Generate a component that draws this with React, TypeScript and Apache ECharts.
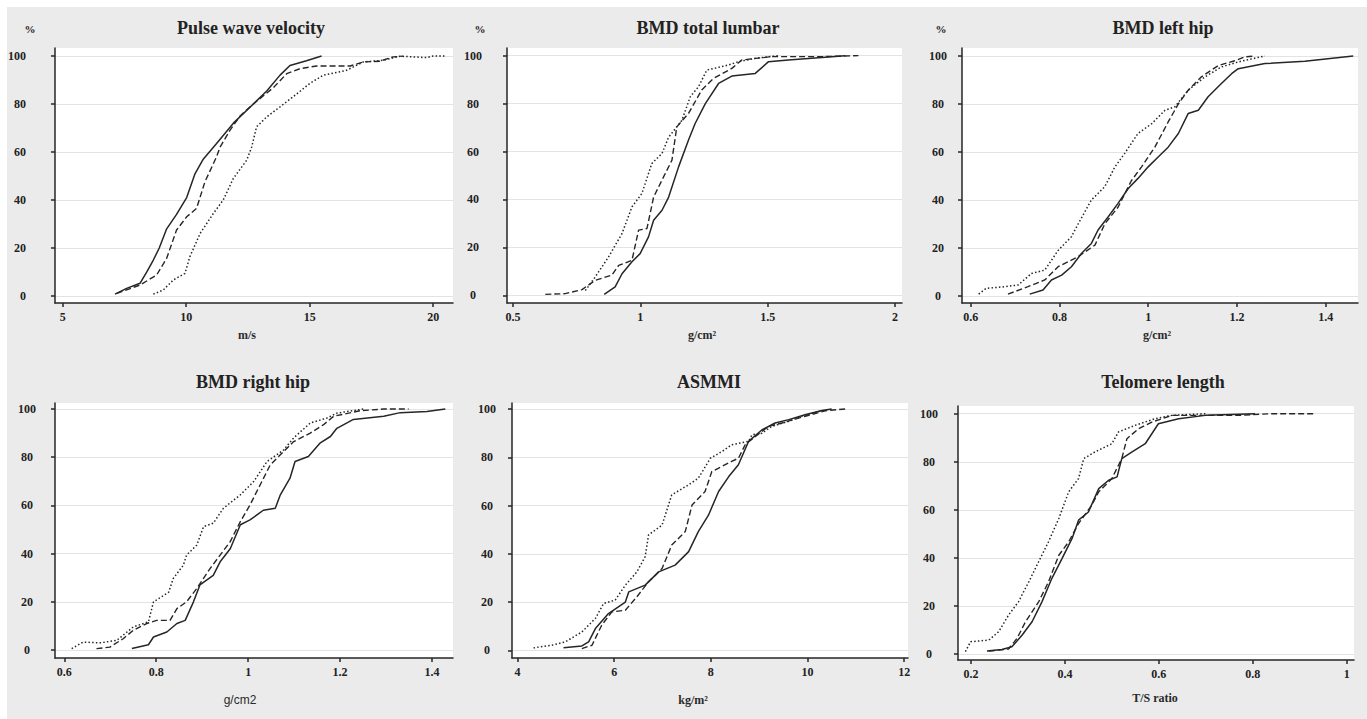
import React, { useEffect, useRef } from "react";
import * as echarts from "echarts";

const pctTicks = [0, 20, 40, 60, 80, 100];

// Pulse wave velocity (m/s)
const pwvTicks = [5, 10, 15, 20];
const pwvSolid = [[7.12,0.8],[7.59,3.2],[8.13,5.3],[8.4,10],[8.67,15],[8.91,20],[9.21,28],[9.61,34],[10.02,41],[10.36,51],[10.69,57],[11.23,63.5],[11.91,72],[12.72,80],[13.26,85.4],[13.8,92],[14.2,96],[14.87,98],[15.48,100]];
const pwvDashed = [[7.19,1.1],[8.13,4.6],[8.8,8.7],[9.21,15.7],[9.61,27.5],[10.02,33],[10.42,36.5],[10.76,47.6],[11.23,58],[11.37,62],[11.77,69],[12.18,75],[12.72,80],[13.53,86.8],[14.07,92.6],[14.61,94.7],[15.28,95.8],[16.63,95.8],[17.17,97.5],[17.84,97.8],[18.38,99.6],[18.78,99.9]];
const pwvDotted = [[8.67,0.8],[9.07,2.5],[9.48,6.7],[9.95,9.4],[10.15,16.4],[10.56,26],[11.1,34.4],[11.5,40],[11.91,49],[12.45,56.6],[12.65,62],[12.85,70.5],[13.26,74.6],[13.8,78.8],[14.33,83],[15.0,88.5],[15.55,92],[16.49,94],[17.17,97.5],[17.98,98.2],[18.65,99.9],[19.73,99.3],[20.0,100],[20.47,100]];

// BMD total lumbar (g/cm²)
const lumbarTicks = [0.5, 1, 1.5, 2];
const lumbarSolid = [[0.858,0.4],[0.901,3.5],[0.928,9],[0.967,14],[0.999,17.4],[1.032,24.4],[1.052,31.3],[1.085,35.5],[1.111,41],[1.15,53.6],[1.189,64.8],[1.215,71.7],[1.255,80],[1.307,88.4],[1.359,91.5],[1.451,92.6],[1.503,97.5],[1.581,98.2],[1.712,99.2],[1.804,100]];
const lumbarDashed = [[0.627,0.4],[0.705,0.7],[0.771,2.4],[0.823,6.3],[0.888,8.4],[0.915,12.5],[0.967,14.6],[0.993,27.2],[1.026,27.9],[1.052,41],[1.091,49.4],[1.124,56.4],[1.143,70.3],[1.189,75.9],[1.241,85.7],[1.287,90.5],[1.359,94.7],[1.398,98.2],[1.516,99.6],[1.712,99.6],[1.856,100]];
const lumbarDotted = [[0.784,2],[0.823,7.7],[0.875,16],[0.928,25.8],[0.967,36.9],[1.006,42.5],[1.045,55],[1.085,59.2],[1.111,66],[1.163,73],[1.196,82.9],[1.228,87],[1.261,94],[1.346,96.1],[1.385,97.5],[1.451,98.9],[1.542,100]];

// BMD left hip (g/cm²)
const leftHipTicks = [0.6, 0.8, 1, 1.2, 1.4];
const leftHipSolid = [[0.733,0.8],[0.763,2.5],[0.782,6.7],[0.805,8.7],[0.827,12.2],[0.85,17.8],[0.872,21.9],[0.887,27.5],[0.91,33],[0.932,38.6],[0.955,44.8],[0.977,49],[1.0,53.8],[1.023,58],[1.045,62],[1.068,67.7],[1.09,76],[1.113,77.4],[1.135,83],[1.165,88.5],[1.188,92.6],[1.203,94.7],[1.263,96.8],[1.353,97.8],[1.462,100]];
const leftHipDashed = [[0.684,0.8],[0.729,3.9],[0.767,6.7],[0.797,12.2],[0.842,16.4],[0.88,21.2],[0.902,30],[0.932,37],[0.962,48],[0.985,53.8],[1.015,62],[1.045,72.5],[1.068,80],[1.09,85.7],[1.12,91.3],[1.158,96],[1.195,98],[1.218,99.6],[1.241,100]];
const leftHipDotted = [[0.618,0.8],[0.635,3.2],[0.677,3.9],[0.707,4.6],[0.737,9.4],[0.767,10.8],[0.797,19],[0.827,24.7],[0.842,30],[0.872,40],[0.902,45.5],[0.925,53.8],[0.947,59.4],[0.977,67.7],[1.008,71.8],[1.038,77.4],[1.06,78.8],[1.09,85.7],[1.128,91.3],[1.165,95.4],[1.203,97.5],[1.263,100]];

// BMD right hip (g/cm2)
const rightHipTicks = [0.6, 0.8, 1, 1.2, 1.4];
const rightHipSolid = [[0.747,0.6],[0.783,2.2],[0.794,5.4],[0.823,7.5],[0.845,11],[0.863,12.3],[0.881,20],[0.895,27],[0.924,31],[0.939,36.6],[0.961,42],[0.983,52],[1.004,54],[1.033,58],[1.059,58.8],[1.07,64.4],[1.091,71.3],[1.102,78.2],[1.131,80.3],[1.157,86],[1.179,88.6],[1.193,92],[1.229,95.7],[1.295,97],[1.331,98.5],[1.389,99],[1.429,100]];
const rightHipDashed = [[0.67,0.6],[0.699,1.2],[0.728,4.7],[0.75,8.2],[0.779,11],[0.801,12.3],[0.83,12.3],[0.845,17.2],[0.866,20],[0.888,25.5],[0.917,33.8],[0.939,39.4],[0.961,45],[0.983,53.3],[1.004,60.2],[1.026,68.5],[1.048,76.8],[1.07,81],[1.099,86.5],[1.135,90],[1.164,93.5],[1.186,97],[1.244,99.3],[1.295,100],[1.349,100]];
const rightHipDotted = [[0.616,0.6],[0.641,3.3],[0.678,3],[0.714,4],[0.75,9.6],[0.783,11.7],[0.794,20],[0.827,24],[0.837,29.7],[0.859,35.2],[0.866,39.4],[0.888,43.5],[0.903,51.2],[0.924,52.6],[0.946,58.8],[0.983,64.4],[1.012,69.9],[1.041,78.2],[1.077,83],[1.099,88],[1.135,94.2],[1.172,96.3],[1.193,98.3],[1.251,100]];

// ASMMI (kg/m²)
const asmmiTicks = [4, 6, 8, 10, 12];
const asmmiSolid = [[4.95,1],[5.33,1.8],[5.47,3.5],[5.61,9],[5.88,15.2],[6.23,20],[6.3,24.2],[6.64,27],[6.92,32.5],[7.26,35.3],[7.54,40.9],[7.74,49.2],[7.95,56],[8.16,65.8],[8.37,72],[8.57,76.9],[8.78,86.6],[9.06,91.4],[9.33,94.2],[9.61,95.6],[9.95,97.6],[10.3,99.4],[10.5,100]];
const asmmiDashed = [[5.33,0.7],[5.54,2.1],[5.74,10.4],[5.95,15.9],[6.23,16.6],[6.47,22.2],[6.71,28.4],[6.99,33.9],[7.19,43.6],[7.47,49.2],[7.61,60.2],[7.88,65.8],[8.02,74.1],[8.43,78.3],[8.57,79.6],[8.71,85.2],[8.92,88.6],[9.19,92.8],[9.47,94.2],[9.95,97],[10.37,99.3],[10.78,100]];
const asmmiDotted = [[4.33,1],[4.71,2.1],[4.99,3.5],[5.33,7.6],[5.61,13.2],[5.78,19.4],[6.02,20.8],[6.23,27],[6.47,32.5],[6.64,38.8],[6.71,47.8],[6.99,51.9],[7.19,64.4],[7.54,68.6],[7.74,71.3],[7.99,79.6],[8.23,82.4],[8.43,85.2],[8.78,86.6],[8.85,89.3],[9.06,90],[9.26,92.8],[9.61,94.9],[9.95,97.6],[10.3,99.3]];

// Telomere length (T/S ratio)
const telomereTicks = [0.2, 0.4, 0.6, 0.8, 1];
const telomereSolid = [[0.234,1.2],[0.266,1.9],[0.287,3],[0.309,7.9],[0.33,13.4],[0.351,21.7],[0.372,31.4],[0.394,39.8],[0.415,48],[0.429,55.7],[0.45,59.1],[0.472,68.8],[0.493,72.3],[0.511,73.7],[0.521,81.3],[0.543,84.1],[0.571,87.5],[0.599,95.8],[0.642,97.9],[0.699,99.3],[0.805,100]];
const telomereDashed = [[0.238,1.2],[0.28,2.1],[0.298,6.5],[0.316,13.4],[0.344,21.7],[0.365,30],[0.387,41.1],[0.408,46.7],[0.429,54.3],[0.457,61.9],[0.472,67.5],[0.5,73],[0.521,81.3],[0.532,89.6],[0.557,93.8],[0.585,96.5],[0.628,99.3],[0.77,99.3],[0.84,100],[0.929,100]];
const telomereDotted = [[0.188,1],[0.199,5.1],[0.238,5.8],[0.259,9.3],[0.28,16.2],[0.301,21.7],[0.323,30],[0.344,38.4],[0.365,46.7],[0.387,56.4],[0.408,67.5],[0.429,73],[0.44,81.3],[0.464,84.1],[0.5,87.5],[0.514,92.4],[0.55,95.2],[0.592,97.9],[0.628,99.3],[0.699,100]];

const panels = [
  { title: "Pulse wave velocity", unit: "m/s", ticks: pwvTicks, curves: [pwvSolid, pwvDashed, pwvDotted] },
  { title: "BMD total lumbar", unit: "g/cm²", ticks: lumbarTicks, curves: [lumbarSolid, lumbarDashed, lumbarDotted] },
  { title: "BMD left hip", unit: "g/cm²", ticks: leftHipTicks, curves: [leftHipSolid, leftHipDashed, leftHipDotted] },
  { title: "BMD right hip", unit: "g/cm2", ticks: rightHipTicks, curves: [rightHipSolid, rightHipDashed, rightHipDotted] },
  { title: "ASMMI", unit: "kg/m²", ticks: asmmiTicks, curves: [asmmiSolid, asmmiDashed, asmmiDotted] },
  { title: "Telomere length", unit: "T/S ratio", ticks: telomereTicks, curves: [telomereSolid, telomereDashed, telomereDotted] },
];

// layout (pixels) and axis extents per panel
const layout = [
  { l: 55, r: 453, t: 48, b: 303, xMin: 4.69, xMax: 20.8, yMin: -2.9, yMax: 103.3, yAlign: "right", yMargin: 29, titleX: 251, titleY: 28, unitX: 247, unitY: 335, pct: [30, 29], sansUnit: false },
  { l: 507, r: 902, t: 48, b: 303, xMin: 0.4765, xMax: 2.027, yMin: -3.2, yMax: 103.2, yAlign: "center", yMargin: 34, titleX: 708, titleY: 28, unitX: 702, unitY: 335, pct: [480, 29], sansUnit: false },
  { l: 962, r: 1358, t: 48, b: 303, xMin: 0.5804, xMax: 1.4728, yMin: -2.9, yMax: 103.3, yAlign: "center", yMargin: 24, titleX: 1163, titleY: 28, unitX: 1157, unitY: 335, pct: [941, 29], sansUnit: false },
  { l: 55, r: 453, t: 403, b: 658, xMin: 0.5797, xMax: 1.4457, yMin: -3.3, yMax: 102.5, yAlign: "center", yMargin: 28, titleX: 253, titleY: 382, unitX: 240, unitY: 700, pct: null, sansUnit: true },
  { l: 512, r: 908, t: 403, b: 658, xMin: 3.884, xMax: 12.08, yMin: -3.2, yMax: 102.5, yAlign: "center", yMargin: 25, titleX: 709, titleY: 382, unitX: 693, unitY: 700, pct: null, sansUnit: false },
  { l: 958, r: 1354, t: 406, b: 660, xMin: 0.1723, xMax: 1.0155, yMin: -2.5, yMax: 103.2, yAlign: "center", yMargin: 29, titleX: 1163, titleY: 382, unitX: 1155, unitY: 698, pct: null, sansUnit: false },
];

const lineTypes: any[] = ["solid", [6, 3], [1.5, 2.2]];
const lineWidths = [1.5, 1.4, 1.5];
const ink = "#262626";
const serif = "'Liberation Serif', 'Times New Roman', serif";

export default function App() {
  const ref = useRef<HTMLDivElement>(null);
  useEffect(() => {
    if (!ref.current) return;
    const chart = echarts.init(ref.current, null, { renderer: "svg" });
    const grid = layout.map((g) => ({
      left: g.l, top: g.t, width: g.r - g.l, height: g.b - g.t,
      show: true, backgroundColor: "#ffffff", borderWidth: 0,
    }));
    const xAxis = panels.map((p, i) => ({
      type: "value", gridIndex: i, min: layout[i].xMin, max: layout[i].xMax,
      axisLine: { show: true, onZero: false, lineStyle: { color: ink, width: 1.5 } },
      axisTick: { show: true, length: 4, customValues: p.ticks, lineStyle: { color: ink, width: 1.5 } },
      axisLabel: { customValues: p.ticks, margin: 8, fontFamily: serif, fontSize: 12, fontWeight: "bold", color: "#222" },
      splitLine: { show: false },
    }));
    const yAxis = panels.map((p, i) => ({
      type: "value", gridIndex: i, min: layout[i].yMin, max: layout[i].yMax,
      axisLine: { show: true, onZero: false, lineStyle: { color: ink, width: 1.5 } },
      axisTick: { show: true, length: 4, customValues: pctTicks, lineStyle: { color: ink, width: 1.5 } },
      axisLabel: { customValues: pctTicks, margin: layout[i].yMargin, align: layout[i].yAlign, fontFamily: serif, fontSize: 12, fontWeight: "bold", color: "#222" },
      splitLine: { show: true, lineStyle: { color: "#e3e3e3", width: 1 } },
    }));
    const series: any[] = [];
    panels.forEach((p, i) => {
      p.curves.forEach((c, k) => {
        series.push({
          type: "line", xAxisIndex: i, yAxisIndex: i, data: c,
          showSymbol: false, silent: true,
          lineStyle: { color: ink, width: lineWidths[k], type: lineTypes[k] },
        });
      });
    });
    const graphic: any[] = [];
    panels.forEach((p, i) => {
      const g = layout[i];
      graphic.push({
        type: "text", x: g.titleX, y: g.titleY,
        style: { text: p.title, font: `bold 18px ${serif}`, fill: "#222", textAlign: "center", textVerticalAlign: "middle" },
      });
      graphic.push({
        type: "text", x: g.unitX, y: g.unitY,
        style: {
          text: p.unit,
          font: g.sansUnit ? "12px 'Liberation Sans', Arial, sans-serif" : `bold 12px ${serif}`,
          fill: "#2a2a2a", textAlign: "center", textVerticalAlign: "middle",
        },
      });
      if (g.pct) {
        graphic.push({
          type: "text", x: g.pct[0], y: g.pct[1],
          style: { text: "%", font: `bold 11px ${serif}`, fill: "#222", textAlign: "center", textVerticalAlign: "middle" },
        });
      }
    });
    chart.setOption({
      animation: false,
      backgroundColor: "transparent",
      grid, xAxis, yAxis, series, graphic,
    });
    return () => chart.dispose();
  }, []);
  return (
    <div style={{ position: "fixed", left: 0, top: 0, width: 1367, height: 719, background: "#ffffff" }}>
      <div style={{ position: "absolute", left: 7, top: 7, width: 1360, height: 712, background: "#ebebeb" }} />
      <div ref={ref} style={{ position: "absolute", left: 0, top: 0, width: 1367, height: 719 }} />
    </div>
  );
}
